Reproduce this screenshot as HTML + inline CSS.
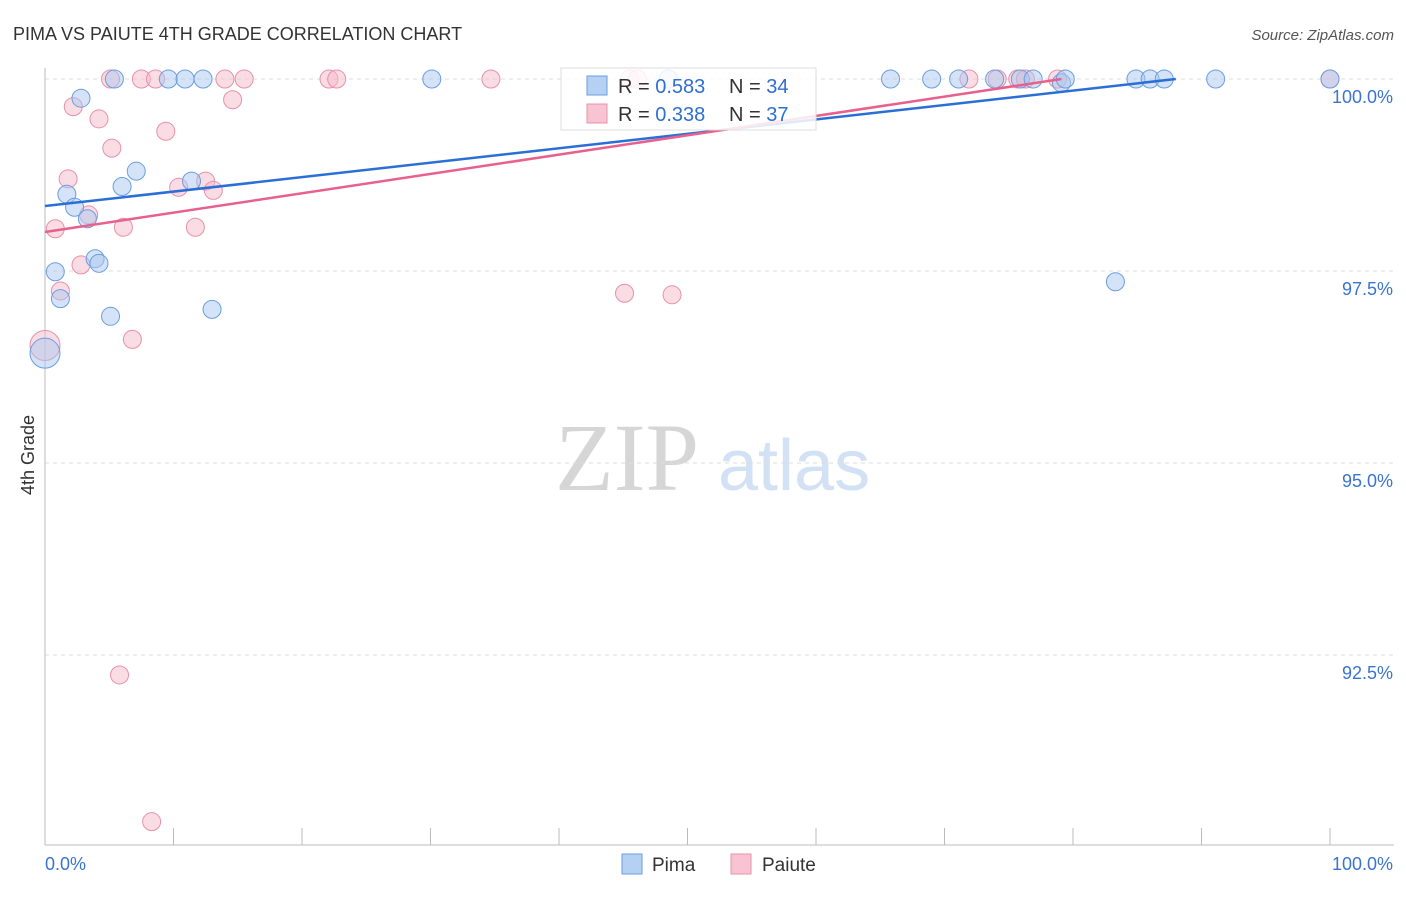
<!DOCTYPE html>
<html><head><meta charset="utf-8">
<style>
body{margin:0;background:#fff;font-family:"Liberation Sans",sans-serif;}
svg text{font-family:"Liberation Sans",sans-serif;}
</style></head>
<body>
<svg id="chart" width="1406" height="892" viewBox="0 0 1406 892">
<text x="13" y="40" font-size="18" fill="#333">PIMA VS PAIUTE 4TH GRADE CORRELATION CHART</text>
<text x="1394" y="40" font-size="15" fill="#555" font-style="italic" text-anchor="end">Source: ZipAtlas.com</text>
<text x="555" y="490" font-size="96" fill="#d6d6d6" style="font-family:'Liberation Serif',serif">ZIP</text>
<text x="718" y="490" font-size="72" fill="#d2e1f4">atlas</text>
<text transform="translate(34,455) rotate(-90)" font-size="18" fill="#333" text-anchor="middle">4th Grade</text>
<g id="grid"></g><g id="axes"></g><g id="marks"></g><g id="lines"></g>
<g>
<rect x="561" y="68" width="255" height="62" fill="#fff" fill-opacity="0.85" stroke="#ddd"/>
<rect x="587" y="76" width="20" height="19" fill="#b5d0f3" stroke="#6a9ee0"/>
<rect x="587" y="104" width="20" height="19" fill="#f8c3d3" stroke="#e890aa"/>
<text x="618" y="93" font-size="20" fill="#333">R = <tspan fill="#2f6fd0">0.583</tspan></text>
<text x="729" y="93" font-size="20" fill="#333">N = <tspan fill="#2f6fd0">34</tspan></text>
<text x="618" y="121" font-size="20" fill="#333">R = <tspan fill="#2f6fd0">0.338</tspan></text>
<text x="729" y="121" font-size="20" fill="#333">N = <tspan fill="#2f6fd0">37</tspan></text>
</g>
<g>
<rect x="622" y="854" width="20" height="20" fill="#b5d0f3" stroke="#6a9ee0"/>
<text x="652" y="871" font-size="19" fill="#333">Pima</text>
<rect x="731" y="854" width="20" height="20" fill="#f8c3d3" stroke="#e890aa"/>
<text x="762" y="871" font-size="19" fill="#333">Paiute</text>
</g>
</svg>
<script>
const yTicks=[100,97.5,95,92.5];
const yTickLabels=["100.0%","97.5%","95.0%","92.5%"];
const pimaX=[2.8,5.4,9.6,10.9,12.3,30.1,1.7,2.3,3.3,6.0,7.1,11.4,3.9,4.2,0.8,1.2,5.1,13.0,0,48.5,65.8,69.0,71.1,73.9,75.9,76.9,79.1,79.4,84.9,86.0,87.1,91.1,100,83.3];
const pimaY=[99.75,100,100,100,100,100,98.5,98.33,98.18,98.6,98.8,98.67,97.66,97.6,97.49,97.14,96.91,97.0,96.43,100,100,100,100,100,100,100,99.95,100,100,100,100,100,100,97.36];
const pimaR=[9,9,9,9,9,9,9,9,9,9,9,9,9,9,9,9,9,9,15,9,9,9,9,9,9,9,9,9,9,9,9,9,9,9];
const paiuteX=[5.1,7.5,8.6,14.0,15.5,22.1,22.7,34.7,45.5,46.1,71.9,74.1,75.7,76.3,78.8,100,2.2,4.2,14.6,9.4,5.2,1.8,10.4,12.5,13.1,3.4,0.8,6.1,11.7,2.8,1.2,45.1,48.8,6.8,0,5.8,8.3];
const paiuteY=[100,100,100,100,100,100,100,100,100,100,100,100,100,100,100,100,99.64,99.48,99.73,99.32,99.1,98.7,98.59,98.67,98.55,98.23,98.05,98.07,98.07,97.58,97.24,97.21,97.19,96.61,96.53,92.24,90.33];
const paiuteR=[9,9,9,9,9,9,9,9,9,9,9,9,9,9,9,9,9,9,9,9,9,9,9,9,9,9,9,9,9,9,9,9,9,9,15,9,9];
const pimaTrendX=[0,88.0];
const pimaTrendY=[98.346,100];
const paiuteTrendX=[0,79.1];
const paiuteTrendY=[98.008,100];
const xTickCount=10;

const NS="http://www.w3.org/2000/svg";
const X0=45,X1=1330,YTOP=79;
const sx=v=>X0+(X1-X0)*v/100;
const sy=v=>YTOP+(100-v)*192/2.5;
function mk(tag,attrs,parent){const e=document.createElementNS(NS,tag);for(const k in attrs)e.setAttribute(k,attrs[k]);parent.appendChild(e);return e;}
const grid=document.getElementById('grid'),axes=document.getElementById('axes'),marks=document.getElementById('marks'),lines=document.getElementById('lines');
yTicks.forEach((t,i)=>{
  const l=mk('line',{x1:X0,x2:1394,y1:sy(t),y2:sy(t),stroke:'#ddd','stroke-dasharray':'4,4'},grid);
  
  
  const tx=mk('text',{x:1393,y:sy(t)+24,'font-size':18,fill:'#3a74d0','text-anchor':'end'},axes);
  tx.textContent=yTickLabels[i];
  
  
});
const ya=mk('line',{x1:X0,x2:X0,y1:68,y2:845,stroke:'#bbb'},axes);


const xa=mk('line',{x1:X0,x2:1394,y1:845,y2:845,stroke:'#bbb'},axes);


for(let i=0;i<=xTickCount;i++){
  const tk=mk('line',{x1:sx(i*10),x2:sx(i*10),y1:828,y2:845,stroke:'#bbb'},axes);
  
  
}
const xl=mk('text',{x:45,y:870,'font-size':18,fill:'#3a74d0'},axes);xl.textContent='0.0%';


const xr=mk('text',{x:1393,y:870,'font-size':18,fill:'#3a74d0','text-anchor':'end'},axes);xr.textContent='100.0%';


function pts(xs,ys,rs,fill,stroke,name){
  xs.forEach((x,i)=>{
    const c=mk('circle',{cx:sx(x),cy:sy(ys[i]),r:rs[i],fill:fill,'fill-opacity':0.5,stroke:stroke,'stroke-width':1},marks);
    
    
  });
}
pts(paiuteX,paiuteY,paiuteR,'#f6b9cb','#e890aa','paiute-point');
pts(pimaX,pimaY,pimaR,'#a9c8f0','#6a9ee0','pima-point');
const bl=mk('line',{x1:sx(pimaTrendX[0]),y1:sy(pimaTrendY[0]),x2:sx(pimaTrendX[1]),y2:sy(pimaTrendY[1]),stroke:'#2a6fd6','stroke-width':2.5},lines);


const pl=mk('line',{x1:sx(paiuteTrendX[0]),y1:sy(paiuteTrendY[0]),x2:sx(paiuteTrendX[1]),y2:sy(paiuteTrendY[1]),stroke:'#e8608c','stroke-width':2.5},lines);


</script>
</body></html>
